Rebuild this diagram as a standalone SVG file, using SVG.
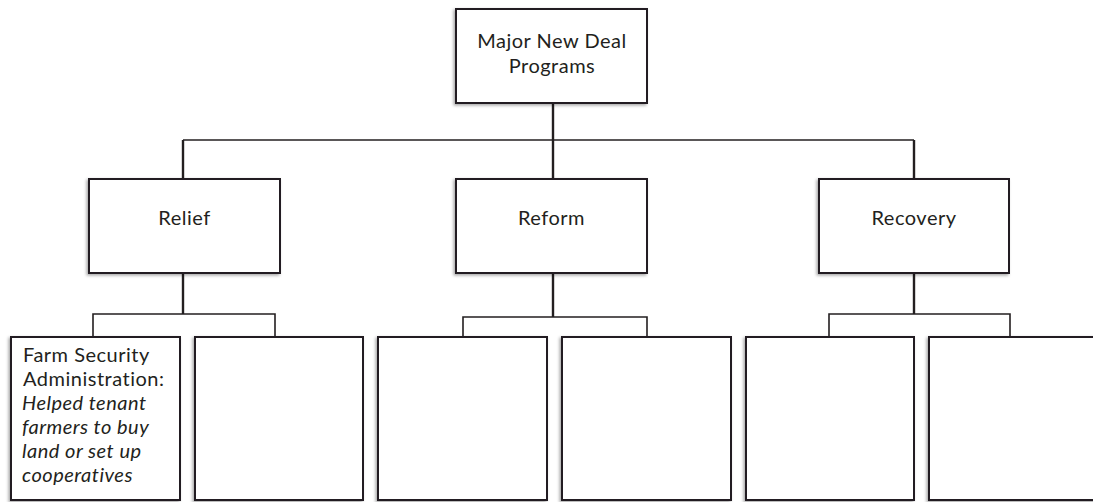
<svg xmlns="http://www.w3.org/2000/svg" width="1093" height="502" viewBox="0 0 1093 502">
<defs>
<filter id="sh" x="-10%" y="-10%" width="120%" height="120%">
<feDropShadow dx="-1.5" dy="1.5" stdDeviation="1.5" flood-color="#000" flood-opacity="0.35"/>
</filter>
<style>
.box{fill:#fff;stroke:#231f20;stroke-width:2;filter:url(#sh)}
.t{font-family:Lato,"Open Sans",sans-serif;font-size:20px;letter-spacing:0.5px;fill:#231f20}
.c{text-anchor:middle}
.i{font-style:italic}
.v{stroke:#231f20;stroke-width:2.4;fill:none}
.h{stroke:#231f20;stroke-width:1.6;fill:none}
</style>
</defs>
<rect width="1093" height="502" fill="#fff"/>
<g id="connectors">
<line class="v" x1="553" y1="103" x2="553" y2="179"/>
<line class="h" x1="183" y1="140" x2="914" y2="140"/>
<line class="v" x1="183" y1="140" x2="183" y2="179"/>
<line class="v" x1="914" y1="140" x2="914" y2="179"/>
<line class="v" x1="183" y1="273" x2="183" y2="314"/>
<polyline class="h" points="93,337 93,314 275,314 275,337"/>
<line class="v" x1="553" y1="273" x2="553" y2="317"/>
<polyline class="h" points="463,337 463,317 647,317 647,337"/>
<line class="v" x1="914" y1="273" x2="914" y2="314"/>
<polyline class="h" points="829,337 829,314 1010,314 1010,337"/>
</g>
<g id="top">
<rect class="box" x="456" y="9" width="191" height="94"/>
<text class="t c" x="552" y="48">Major New Deal</text>
<text class="t c" x="552" y="73">Programs</text>
</g>
<g id="relief">
<rect class="box" x="89" y="179" width="191" height="94"/>
<text class="t c" x="184.5" y="225">Relief</text>
</g>
<g id="reform">
<rect class="box" x="456" y="179" width="191" height="94"/>
<text class="t c" x="551.5" y="225">Reform</text>
</g>
<g id="recovery">
<rect class="box" x="819" y="179" width="190" height="94"/>
<text class="t c" x="914" y="225">Recovery</text>
</g>
<g id="relief1">
<rect class="box" x="11" y="337" width="169" height="163"/>
<text class="t" x="23" y="362">Farm Security</text>
<text class="t" x="23" y="386">Administration:</text>
<text class="t i" x="22" y="410">Helped tenant</text>
<text class="t i" x="22" y="434">farmers to buy</text>
<text class="t i" x="22" y="458">land or set up</text>
<text class="t i" x="22" y="482">cooperatives</text>
</g>
<g id="relief2"><rect class="box" x="195" y="337" width="168" height="163"/></g>
<g id="reform1"><rect class="box" x="378" y="337" width="169" height="163"/></g>
<g id="reform2"><rect class="box" x="562" y="337" width="169" height="163"/></g>
<g id="recovery1"><rect class="box" x="746" y="337" width="168" height="163"/></g>
<g id="recovery2"><rect class="box" x="929" y="337" width="180" height="163"/></g>
</svg>
